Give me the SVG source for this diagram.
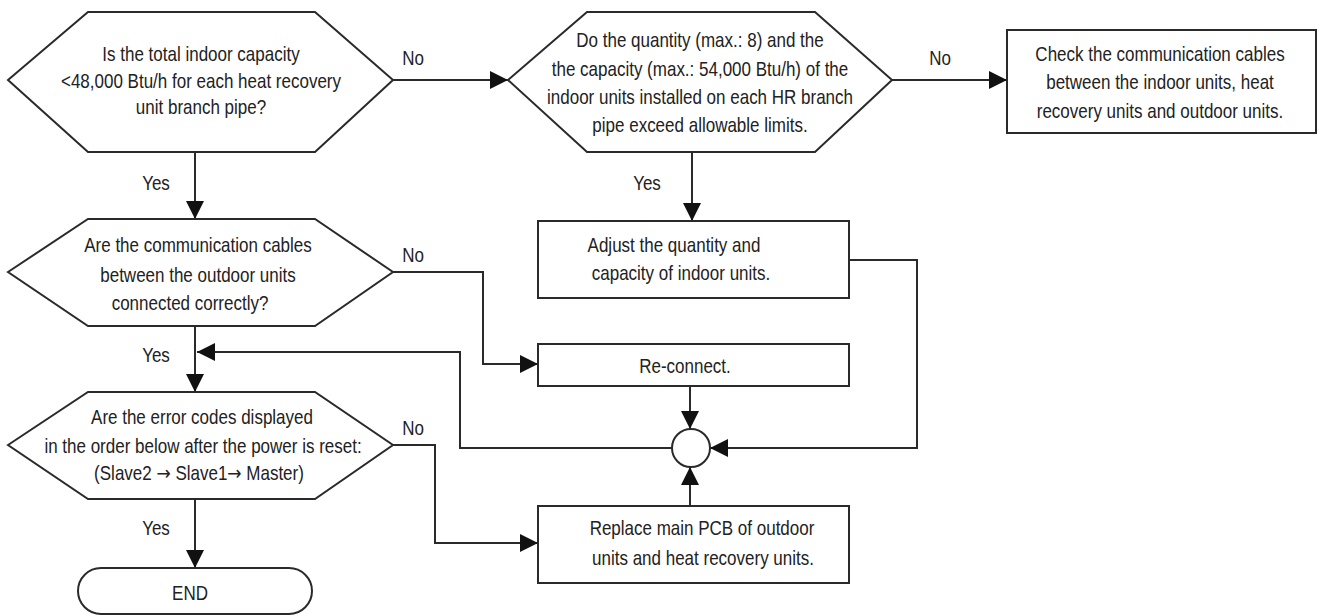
<svg xmlns="http://www.w3.org/2000/svg" width="1318" height="616" viewBox="0 0 1318 616">
<style>
.shape{fill:#fff;stroke:#2a2a2a;stroke-width:2}
.t{font-family:"Liberation Sans",Arial,sans-serif;font-size:20px;fill:#222;text-anchor:middle}
.lbl{font-family:"Liberation Sans",Arial,sans-serif;font-size:20px;fill:#222;text-anchor:middle}
.arr{font-family:"DejaVu Sans",sans-serif;font-size:20px}
.conn{fill:none;stroke:#2a2a2a;stroke-width:2;marker-end:url(#ah)}
</style>
<defs>
<marker id="ah" markerUnits="userSpaceOnUse" markerWidth="18" markerHeight="18" refX="18" refY="9" orient="auto">
<path d="M0,0 L18,9 L0,18 z" fill="#111"/>
</marker>
</defs>
<rect width="1318" height="616" fill="#fff"/>
<g id="connectors">
<path class="conn" d="M393,80 H508"/>
<path class="conn" d="M892,80 H1007"/>
<path class="conn" d="M195,152 V219"/>
<path class="conn" d="M692,152 V221"/>
<path class="conn" d="M393,272 H483 V364 H538"/>
<path class="conn" d="M195,326 V392"/>
<path class="conn" d="M672,448 H460 V352 H197"/>
<path class="conn" d="M849,260 H917 V448 H710"/>
<path class="conn" d="M690,386 V429"/>
<path class="conn" d="M690,506 V467"/>
<path class="conn" d="M393,445 H435 V543 H538"/>
<path class="conn" d="M195,499 V568"/>
<text class="lbl" transform="translate(413 65) scale(0.85 1)">No</text>
<text class="lbl" transform="translate(940 65) scale(0.85 1)">No</text>
<text class="lbl" transform="translate(413 262) scale(0.85 1)">No</text>
<text class="lbl" transform="translate(413 435) scale(0.85 1)">No</text>
<text class="lbl" transform="translate(156 190) scale(0.85 1)">Yes</text>
<text class="lbl" transform="translate(647 190) scale(0.85 1)">Yes</text>
<text class="lbl" transform="translate(156 362) scale(0.85 1)">Yes</text>
<text class="lbl" transform="translate(156 535) scale(0.85 1)">Yes</text>
</g>
<g id="q1">
<polygon class="shape" points="8,80 88,12 315,12 393,80 315,152 88,152"/>
<text class="t" transform="translate(201 61) scale(0.85 1)">Is the total indoor capacity</text>
<text class="t" transform="translate(201 88) scale(0.85 1)">&lt;48,000 Btu/h for each heat recovery</text>
<text class="t" transform="translate(201 114) scale(0.85 1)">unit branch pipe?</text>
</g>
<g id="q2">
<polygon class="shape" points="508,80 587,12 815,12 892,80 815,152 587,152"/>
<text class="t" transform="translate(700 47) scale(0.85 1)">Do the quantity (max.: 8) and the</text>
<text class="t" transform="translate(700 76) scale(0.85 1)">the capacity (max.: 54,000 Btu/h) of the</text>
<text class="t" transform="translate(700 104) scale(0.85 1)">indoor units installed on each HR branch</text>
<text class="t" transform="translate(700 132) scale(0.85 1)">pipe exceed allowable limits.</text>
</g>
<g id="check">
<rect class="shape" x="1007" y="30" width="309" height="103"/>
<text class="t" transform="translate(1160 61) scale(0.85 1)">Check the communication cables</text>
<text class="t" transform="translate(1160 89) scale(0.85 1)">between the indoor units, heat</text>
<text class="t" transform="translate(1160 118) scale(0.85 1)">recovery units and outdoor units.</text>
</g>
<g id="q3">
<polygon class="shape" points="8,272 88,219 315,219 393,272 315,326 88,326"/>
<text class="t" transform="translate(198 252) scale(0.85 1)">Are the communication cables</text>
<text class="t" transform="translate(198 282) scale(0.85 1)">between the outdoor units</text>
<text class="t" transform="translate(190 310) scale(0.85 1)">connected correctly?</text>
</g>
<g id="adjust">
<rect class="shape" x="538" y="221" width="311" height="77"/>
<text class="t" transform="translate(674 252) scale(0.85 1)">Adjust the quantity and</text>
<text class="t" transform="translate(681 280) scale(0.85 1)">capacity of indoor units.</text>
</g>
<g id="reconnect">
<rect class="shape" x="538" y="344" width="311" height="42"/>
<text class="t" transform="translate(685 373) scale(0.85 1)">Re-connect.</text>
</g>
<g id="junction">
<circle class="shape" cx="691" cy="448" r="19"/>
</g>
<g id="q4">
<polygon class="shape" points="8,445 88,392 315,392 393,445 315,499 88,499"/>
<text class="t" transform="translate(202 424) scale(0.85 1)">Are the error codes displayed</text>
<text class="t" transform="translate(203 453) scale(0.85 1)">in the order below after the power is reset:</text>
<text class="t" transform="translate(199 480) scale(0.85 1)">(Slave2 <tspan class="arr">→</tspan> Slave1<tspan class="arr">→</tspan> Master)</text>
</g>
<g id="replace">
<rect class="shape" x="538" y="506" width="311" height="77"/>
<text class="t" transform="translate(702 535) scale(0.85 1)">Replace main PCB of outdoor</text>
<text class="t" transform="translate(703 565) scale(0.85 1)">units and heat recovery units.</text>
</g>
<g id="end">
<rect class="shape" x="78" y="568" width="234" height="46" rx="23" ry="23"/>
<text class="t" transform="translate(190 600) scale(0.85 1)">END</text>
</g>
</svg>
